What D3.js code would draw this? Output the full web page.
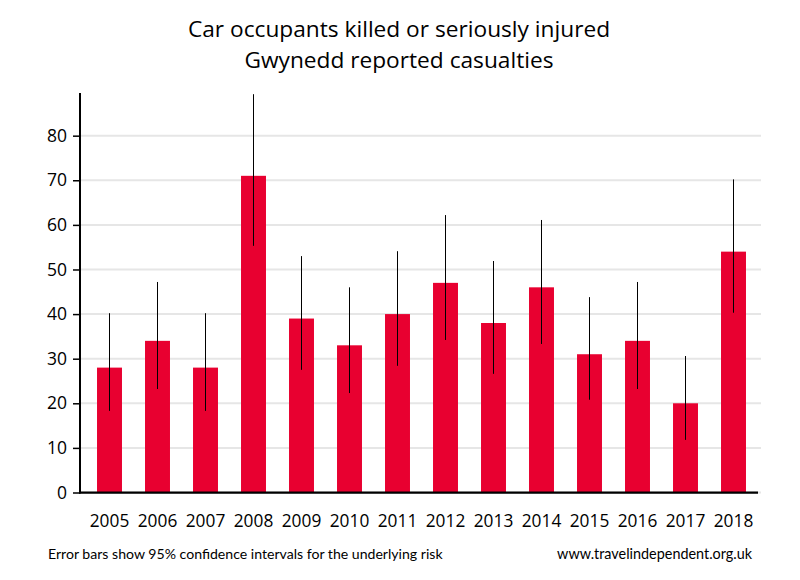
<!DOCTYPE html>
<html>
<head>
<meta charset="utf-8">
<script src="https://cdn.jsdelivr.net/npm/d3@7"></script>
<style>
  html, body { margin: 0; padding: 0; background: #fff; }
  svg { display: block; }
</style>
</head>
<body>
<svg id="chart" width="800" height="580"></svg>
<script>
const years = ["2005","2006","2007","2008","2009","2010","2011","2012","2013","2014","2015","2016","2017","2018"];
const values = [28, 34, 28, 71, 39, 33, 40, 47, 38, 46, 31, 34, 20, 54];
const lower  = [18.3, 23.2, 18.3, 55.3, 27.5, 22.3, 28.4, 34.2, 26.6, 33.3, 20.8, 23.2, 11.8, 40.3];
const upper  = [40.2, 47.2, 40.2, 89.3, 53.0, 46.0, 54.1, 62.2, 51.9, 61.1, 43.8, 47.2, 30.6, 70.2];
const yTicks = [0, 10, 20, 30, 40, 50, 60, 70, 80];
const titleLines = ["Car occupants killed or seriously injured", "Gwynedd reported casualties"];
const footLeft = "Error bars show 95% confidence intervals for the underlying risk";
const footRight = "www.travelindependent.org.uk";

const svg = d3.select("#chart");
const yMax = 89.5;
const y = d3.scaleLinear().domain([0, yMax]).range([492.5, 93.3]);
const x = d3.scaleBand().domain(years).range([85.5, 757.5]).paddingInner(0.48).paddingOuter(0.24);

// gridlines
svg.append("g").selectAll("line").data(yTicks).join("line")
  .attr("x1", 81).attr("x2", 761)
  .attr("y1", d => y(d)).attr("y2", d => y(d))
  .attr("stroke", "#e6e6e6").attr("stroke-width", 2);

// bars
svg.append("g").selectAll("rect").data(values).join("rect")
  .attr("x", (d, i) => x(years[i]))
  .attr("width", x.bandwidth())
  .attr("y", d => y(d))
  .attr("height", d => y(0) - y(d))
  .attr("fill", "#e80030");

// error bars
svg.append("g").selectAll("line").data(years).join("line")
  .attr("x1", d => x(d) + x.bandwidth() / 2)
  .attr("x2", d => x(d) + x.bandwidth() / 2)
  .attr("y1", (d, i) => y(lower[i]))
  .attr("y2", (d, i) => y(upper[i]))
  .attr("stroke", "#000").attr("stroke-width", 1);

// y axis
const yAxis = d3.axisLeft(y).tickValues(yTicks).tickSize(7).tickPadding(6).tickFormat(d3.format("d"));
const gy = svg.append("g").attr("transform", "translate(80,0)").call(yAxis);
gy.select(".domain").remove();
gy.selectAll(".tick line").attr("stroke", "#000").attr("stroke-width", 1.5);
gy.selectAll(".tick text").attr("font-family", "'Open Sans', sans-serif").attr("font-size", 17.5).attr("fill", "#000");
svg.append("line").attr("x1", 80).attr("x2", 80).attr("y1", 93).attr("y2", 493.5)
  .attr("stroke", "#000").attr("stroke-width", 2);

// x axis
const xAxis = d3.axisBottom(x).tickSize(0).tickPadding(22);
const gx = svg.append("g").attr("transform", "translate(0,492.5)").call(xAxis);
gx.select(".domain").remove();
gx.selectAll(".tick text").attr("font-family", "'Open Sans', sans-serif").attr("font-size", 17.3).attr("fill", "#000");
svg.append("line").attr("x1", 79).attr("x2", 758).attr("y1", 492.7).attr("y2", 492.7)
  .attr("stroke", "#000").attr("stroke-width", 2.2);

// title
svg.append("g").selectAll("text").data(titleLines).join("text")
  .attr("x", 399).attr("y", (d, i) => 36.5 + i * 31)
  .attr("text-anchor", "middle")
  .attr("font-family", "'Open Sans', sans-serif").attr("font-size", 22.7).attr("fill", "#000")
  .text(d => d);

// footer
svg.append("text").attr("x", 48).attr("y", 559)
  .attr("font-family", "Lato, sans-serif").attr("font-size", 14.1).attr("fill", "#000")
  .text(footLeft);
svg.append("text").attr("x", 752).attr("y", 559).attr("text-anchor", "end")
  .attr("font-family", "Lato, sans-serif").attr("font-size", 14.4).attr("fill", "#000")
  .text(footRight);
</script>
</body>
</html>
